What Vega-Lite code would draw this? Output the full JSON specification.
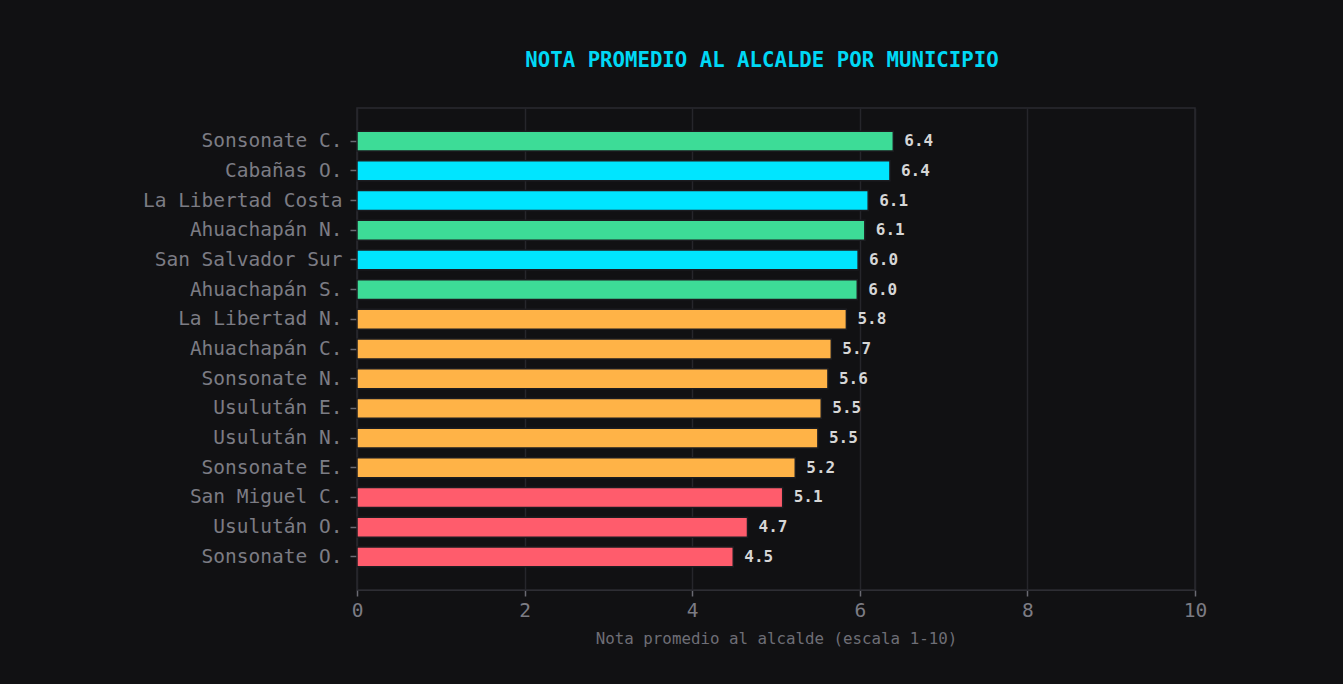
{
  "$schema": "https://vega.github.io/schema/vega-lite/v6.json",
  "autosize": {"type": "none"},
  "padding": {"left": 357, "top": 108, "right": 148, "bottom": 94},
  "width": 838,
  "height": 482,
  "background": "#111113",
  "title": {
    "text": "NOTA PROMEDIO AL ALCALDE POR MUNICIPIO",
    "font": "DejaVu Sans Mono",
    "fontSize": 20.7,
    "fontWeight": "bold",
    "color": "#00d8f5",
    "anchor": "middle",
    "dx": -14,
    "offset": 36
  },
  "config": {
    "view": {"stroke": "#2a2a30", "strokeWidth": 1.5},
    "axis": {
      "labelFont": "DejaVu Sans Mono",
      "titleFont": "DejaVu Sans Mono",
      "labelColor": "#7c7c84",
      "titleColor": "#6e6e76",
      "domainColor": "#2e2e34",
      "tickColor": "#6a6a72",
      "gridColor": "#26262b",
      "gridWidth": 1.5
    }
  },
  "data": {
    "values": [
      {"municipio": "Sonsonate C.", "nota": 6.40, "grupo": "verde", "orden": 1},
      {"municipio": "Cabañas O.", "nota": 6.36, "grupo": "cian", "orden": 2},
      {"municipio": "La Libertad Costa", "nota": 6.10, "grupo": "cian", "orden": 3},
      {"municipio": "Ahuachapán N.", "nota": 6.06, "grupo": "verde", "orden": 4},
      {"municipio": "San Salvador Sur", "nota": 5.98, "grupo": "cian", "orden": 5},
      {"municipio": "Ahuachapán S.", "nota": 5.97, "grupo": "verde", "orden": 6},
      {"municipio": "La Libertad N.", "nota": 5.84, "grupo": "naranja", "orden": 7},
      {"municipio": "Ahuachapán C.", "nota": 5.66, "grupo": "naranja", "orden": 8},
      {"municipio": "Sonsonate N.", "nota": 5.62, "grupo": "naranja", "orden": 9},
      {"municipio": "Usulután E.", "nota": 5.54, "grupo": "naranja", "orden": 10},
      {"municipio": "Usulután N.", "nota": 5.50, "grupo": "naranja", "orden": 11},
      {"municipio": "Sonsonate E.", "nota": 5.23, "grupo": "naranja", "orden": 12},
      {"municipio": "San Miguel C.", "nota": 5.08, "grupo": "rojo", "orden": 13},
      {"municipio": "Usulután O.", "nota": 4.66, "grupo": "rojo", "orden": 14},
      {"municipio": "Sonsonate O.", "nota": 4.49, "grupo": "rojo", "orden": 15}
    ]
  },
  "encoding": {
    "y": {
      "field": "municipio",
      "type": "nominal",
      "sort": {"field": "orden", "order": "ascending"},
      "scale": {"paddingInner": 0.33, "paddingOuter": 0.78},
      "axis": {
        "title": null,
        "labelFontSize": 19.5,
        "labelLimit": 500,
        "tickSize": 7,
        "tickWidth": 1.5,
        "labelPadding": 8,
        "domain": false,
        "grid": false
      }
    },
    "x": {
      "field": "nota",
      "type": "quantitative",
      "scale": {"domain": [0, 10]},
      "axis": {
        "title": "Nota promedio al alcalde (escala 1-10)",
        "titleFontSize": 15.8,
        "titleFontWeight": "normal",
        "titlePadding": 12,
        "labelFontSize": 19.5,
        "labelPadding": 5,
        "labelFlush": false,
        "tickSize": 6,
        "tickWidth": 1.5,
        "values": [0, 2, 4, 6, 8, 10],
        "grid": true
      }
    }
  },
  "layer": [
    {
      "mark": {"type": "bar", "stroke": "#1c1c20", "strokeWidth": 1.5},
      "encoding": {
        "color": {
          "field": "grupo",
          "type": "nominal",
          "scale": {
            "domain": ["verde", "cian", "naranja", "rojo"],
            "range": ["#3ddc97", "#00e5ff", "#ffb347", "#ff5c6c"]
          },
          "legend": null
        }
      }
    },
    {
      "mark": {
        "type": "text",
        "align": "left",
        "baseline": "middle",
        "dx": 11,
        "font": "DejaVu Sans Mono",
        "fontSize": 16,
        "fontWeight": "bold",
        "color": "#d6d6d6"
      },
      "encoding": {
        "text": {"field": "nota", "type": "quantitative", "format": ".1f"}
      }
    }
  ]
}
